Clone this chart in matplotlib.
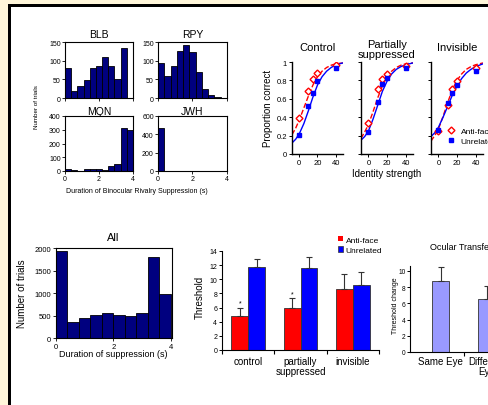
import numpy as np
import matplotlib
matplotlib.use('Agg')
import matplotlib.pyplot as plt
from matplotlib.patches import Rectangle
from matplotlib.lines import Line2D

plt.rcParams['font.family'] = ['Liberation Sans', 'DejaVu Sans']

W, H = 489, 406
DPI = 100

# ---------------- data ----------------
subjects = ['BLB', 'RPY', 'MQN', 'JWH']
blb_counts = [80, 20, 32, 48, 80, 86, 110, 87, 50, 135, 0]
rpy_counts = [95, 58, 87, 125, 142, 122, 70, 25, 8, 3, 1]
mqn_counts = [12, 5, 3, 15, 17, 15, 10, 40, 50, 310, 300]
jwh_counts = [470, 5, 5, 3, 3, 2, 2, 3, 2, 1, 0]
subj_ytop = [150, 150, 400, 600]
subj_yticks = [[0, 50, 100, 150], [0, 50, 100, 150],
               [0, 100, 200, 300, 400], [0, 200, 400, 600]]

all_counts = [1950, 350, 440, 510, 560, 510, 490, 555, 1820, 980]

strength = [0, 10, 15, 20, 40]
conditions = ['Control', 'Partially\nsuppressed', 'Invisible']
anti_pc = [[0.39, 0.69, 0.82, 0.88, 0.97],
           [0.34, 0.71, 0.81, 0.87, 0.96],
           [0.25, 0.53, 0.71, 0.79, 0.94]]
unrel_pc = [[0.21, 0.52, 0.66, 0.79, 0.93],
            [0.24, 0.57, 0.76, 0.83, 0.93],
            [0.26, 0.55, 0.66, 0.75, 0.90]]
fit_x = [-8, -4, 0, 5, 10, 15, 20, 25, 30, 35, 40, 48]
anti_fit = [[0.21, 0.28, 0.37, 0.50, 0.63, 0.75, 0.84, 0.90, 0.94, 0.965, 0.98, 0.99],
            [0.17, 0.24, 0.32, 0.46, 0.61, 0.74, 0.84, 0.90, 0.94, 0.965, 0.98, 0.99],
            [0.14, 0.20, 0.27, 0.41, 0.56, 0.70, 0.80, 0.87, 0.92, 0.95, 0.97, 0.99]]
unrel_fit = [[0.12, 0.16, 0.22, 0.33, 0.47, 0.62, 0.75, 0.84, 0.90, 0.94, 0.97, 0.99],
             [0.15, 0.19, 0.25, 0.38, 0.53, 0.68, 0.79, 0.87, 0.92, 0.95, 0.97, 0.99],
             [0.19, 0.23, 0.29, 0.40, 0.52, 0.64, 0.74, 0.82, 0.88, 0.92, 0.95, 0.98]]

thr_cats = ['control', 'partially\nsuppressed', 'invisible']
thr_anti = [4.8, 5.9, 8.6]
thr_anti_err = [1.2, 1.5, 2.2]
thr_unrel = [11.7, 11.6, 9.2]
thr_unrel_err = [1.1, 1.6, 1.9]
thr_sig = [True, True, False]

ocular_cats = ['Same Eye', 'Different\nEye']
ocular_vals = [8.7, 6.5]
ocular_err = [1.75, 1.6]

# ---------------- helpers ----------------
fig = plt.figure(figsize=(W / DPI, H / DPI), dpi=DPI)
fig.patch.set_facecolor('#FFF6DA')


def fx(px):
    return px / W


def fy(py):
    return 1 - py / H


def add_ax(left, top, right, bottom):
    return fig.add_axes([fx(left), fy(bottom), (right - left) / W, (bottom - top) / H])


def T(x, y, s, **kw):
    kw.setdefault('ha', 'center')
    kw.setdefault('va', 'center')
    fig.text(fx(x), fy(y), s, **kw)


# border and white panel
fig.add_artist(Rectangle((fx(8), 0), 1, fy(5), transform=fig.transFigure,
                         facecolor='black', edgecolor='none', zorder=-20))
fig.add_artist(Rectangle((fx(11), 0), 1, fy(8), transform=fig.transFigure,
                         facecolor='white', edgecolor='none', zorder=-19))

NAVY = '#00007F'

# ---------------- subject histograms ----------------
subj_counts = [blb_counts, rpy_counts, mqn_counts, jwh_counts]
boxes = [(65, 43, 133, 99), (158, 43, 227, 99), (65, 117, 133, 172), (158, 117, 227, 172)]
title_y = [35, 35, 112, 112]
for i, (name, counts) in enumerate(zip(subjects, subj_counts)):
    ax = add_ax(*boxes[i])
    n = len(counts)
    edges = np.linspace(0, 4, n + 1)
    ax.bar(edges[:-1], counts, width=edges[1] - edges[0], align='edge',
           color=NAVY, edgecolor='black', linewidth=0.6)
    ax.set_xlim(0, 4)
    ax.set_ylim(0, subj_ytop[i])
    ax.set_yticks(subj_yticks[i])
    ax.tick_params(labelsize=5, length=2, width=0.6, pad=1)
    ax.set_xticks([0, 2, 4])
    if i < 2:
        ax.set_xticklabels([])
    for sp in ax.spines.values():
        sp.set_linewidth(0.8)
    l, t, r, b = boxes[i]
    T((l + r) / 2, title_y[i], name, fontsize=7.5)

T(37, 107, 'Number of trials', fontsize=4.5, rotation=90)
T(137, 192, 'Duration of Binocular Rivalry Suppression (s)', fontsize=5)

# ---------------- psychometric panels ----------------
pboxes = [(292, 63, 343, 155), (361, 63, 413, 155), (431, 63, 483, 155)]
ptitle_y = [48, 50, 48]
for i in range(3):
    ax = add_ax(*pboxes[i])
    ax.plot(fit_x, anti_fit[i], '--', color='red', lw=1)
    ax.plot(fit_x, unrel_fit[i], '-', color='blue', lw=1)
    ax.plot(strength, anti_pc[i], 'D', mfc='white', mec='red', mew=1, ms=3.5)
    ax.plot(strength, unrel_pc[i], 's', mfc='blue', mec='blue', ms=3.5)
    ax.set_xlim(-8, 48)
    ax.set_ylim(0, 1)
    ax.set_xticks([0, 20, 40])
    ax.set_yticks([0, 0.2, 0.4, 0.6, 0.8, 1])
    if i == 0:
        ax.set_yticklabels(['0', '0.2', '0.4', '0.6', '0.8', '1'])
    else:
        ax.set_yticklabels([])
    ax.spines['top'].set_visible(False)
    ax.spines['right'].set_visible(False)
    ax.spines['left'].set_linewidth(1)
    ax.spines['bottom'].set_linewidth(1)
    ax.tick_params(labelsize=5.5, length=2, width=0.7, pad=1.5)
    l, t, r, b = pboxes[i]
    T((l + r) / 2, ptitle_y[i], conditions[i], fontsize=8, linespacing=1.1)

T(268, 108, 'Proportion correct', fontsize=7, rotation=90)
T(387, 174, 'Identity strength', fontsize=7)

leg_handles = [Line2D([], [], ls='none', marker='D', mfc='white', mec='red', mew=1, ms=3.5),
               Line2D([], [], ls='none', marker='s', mfc='blue', mec='blue', ms=3.5)]
fig.legend(leg_handles, ['Anti-face', 'Unrelated'], loc='center left',
           bbox_to_anchor=(fx(443), fy(137)), frameon=False, fontsize=6,
           handlelength=1, handletextpad=0.6, labelspacing=0.35, borderpad=0)

# ---------------- All histogram ----------------
ax = add_ax(56, 249, 172, 339)
edges = np.linspace(0, 4, len(all_counts) + 1)
ax.bar(edges[:-1], all_counts, width=edges[1] - edges[0], align='edge',
       color=NAVY, edgecolor='black', linewidth=0.6)
ax.set_xlim(0, 4.05)
ax.set_ylim(0, 2010)
ax.set_xticks([0, 2, 4])
ax.set_yticks([0, 500, 1000, 1500, 2000])
ax.tick_params(labelsize=5.5, length=2, width=0.6, pad=1.5)
for sp in ax.spines.values():
    sp.set_linewidth(0.8)
T(113, 238, 'All', fontsize=8)
T(22, 294, 'Number of trials', fontsize=7, rotation=90)
T(113, 355, 'Duration of suppression (s)', fontsize=6.5)

# ---------------- threshold bar chart ----------------
ax = add_ax(222, 252, 379, 351)
xpos = np.arange(len(thr_cats))
bw = 0.32
ax.bar(xpos - bw / 2, thr_anti, width=bw, color='#FF0000', edgecolor='#333333', linewidth=0.6)
ax.bar(xpos + bw / 2, thr_unrel, width=bw, color='#0000FF', edgecolor='#333333', linewidth=0.6)
ax.errorbar(xpos - bw / 2, thr_anti, yerr=[np.zeros(3), thr_anti_err], fmt='none',
            ecolor='#333333', elinewidth=0.8, capsize=2.5, capthick=0.8)
ax.errorbar(xpos + bw / 2, thr_unrel, yerr=[np.zeros(3), thr_unrel_err], fmt='none',
            ecolor='#333333', elinewidth=0.8, capsize=2.5, capthick=0.8)
for k in range(3):
    if thr_sig[k]:
        ax.text(xpos[k] - bw / 2, thr_anti[k] + thr_anti_err[k] + 0.6, '*',
                ha='center', va='center', fontsize=5)
ax.set_xlim(-0.5, 2.5)
ax.set_ylim(0, 14)
ax.set_yticks(range(0, 15, 2))
ax.set_xticks(xpos)
ax.set_xticklabels(thr_cats, fontsize=7, linespacing=1.0)
ax.set_xticks([-0.5, 0.5, 1.5, 2.5], minor=True)
ax.tick_params(axis='x', which='major', length=0, pad=4)
ax.tick_params(axis='x', which='minor', length=3, width=0.8)
ax.tick_params(axis='y', labelsize=5, length=2, width=0.7, pad=1.5)
ax.spines['top'].set_visible(False)
ax.spines['right'].set_visible(False)
ax.spines['left'].set_linewidth(0.8)
ax.spines['bottom'].set_linewidth(0.8)
T(200, 297, 'Threshold', fontsize=7, rotation=90)

bar_handles = [Rectangle((0, 0), 1, 1, facecolor='#FF0000', edgecolor='none'),
               Rectangle((0, 0), 1, 1, facecolor='#0000FF', edgecolor='#333333', linewidth=0.5)]
fig.legend(bar_handles, ['Anti-face', 'Unrelated'], loc='center left',
           bbox_to_anchor=(fx(334), fy(246)), frameon=False, fontsize=6,
           handlelength=0.6, handleheight=0.6, handletextpad=0.3,
           labelspacing=0.35, borderpad=0)

# ---------------- ocular transfer ----------------
ax = add_ax(410, 267, 510, 353)
opos = np.arange(len(ocular_cats))
ax.bar(opos, ocular_vals, width=0.37, color='#9999FF', edgecolor='#333333', linewidth=0.6)
ax.errorbar(opos, ocular_vals, yerr=[np.zeros(2), ocular_err], fmt='none',
            ecolor='#333333', elinewidth=0.8, capsize=2.5, capthick=0.8)
ax.set_xlim(-0.67, 1.5)
ax.set_ylim(0, 10.6)
ax.set_yticks(range(0, 11, 2))
ax.set_xticks(opos)
ax.set_xticklabels(ocular_cats, fontsize=7, linespacing=1.0)
ax.set_xticks([0.5], minor=True)
ax.tick_params(axis='x', which='major', length=0, pad=3)
ax.tick_params(axis='x', which='minor', length=3, width=0.8)
ax.tick_params(axis='y', labelsize=4.8, length=2, width=0.7, pad=1)
ax.spines['top'].set_visible(False)
ax.spines['right'].set_visible(False)
ax.spines['left'].set_linewidth(0.8)
ax.spines['bottom'].set_linewidth(0.8)
T(430, 248, 'Ocular Transfer', fontsize=6.5, ha='left')
T(396, 306, 'Threshold change', fontsize=5, rotation=90)

fig.savefig('out.png', dpi=DPI, facecolor=fig.get_facecolor())
